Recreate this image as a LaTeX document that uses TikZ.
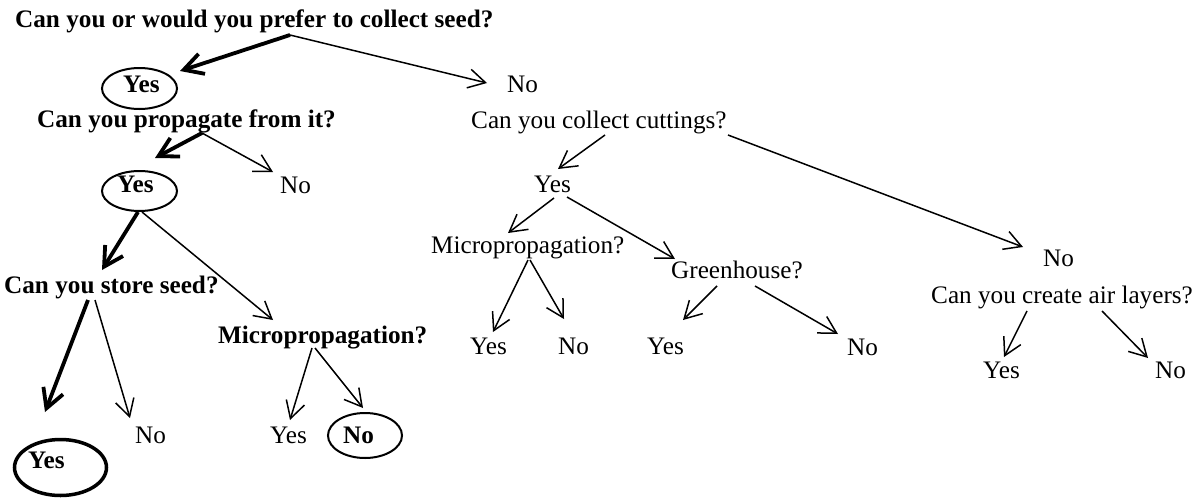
\documentclass[tikz,border=0pt]{standalone}
\usepackage{fontspec}
\setmainfont{Liberation Serif}
\usetikzlibrary{arrows.meta,shapes.geometric}

\begin{document}
\begin{tikzpicture}[x=1pt,y=-1pt,
  lbl/.style={inner sep=0pt,anchor=base west,font=\fontsize{25.2}{30}\selectfont},
  blbl/.style={lbl,font=\fontsize{25.2}{30}\selectfont\bfseries},
  oval/.style={draw,ellipse,inner sep=0pt,line width=2pt},
  thin/.style={line width=1.5pt,-{Straight Barb[length=17pt,width=19pt]}},
  thick/.style={line width=3.8pt,-{Straight Barb[length=19pt,width=21pt]}}]
\useasboundingbox (0,0) rectangle (1199,498);

% outlines around the chosen answers
\node[oval,minimum width=75pt,minimum height=41pt] (e1) at (139.5,88.5) {};
\node[oval,minimum width=75pt,minimum height=40pt] (e2) at (139.5,191) {};
\node[oval,line width=3.5pt,minimum width=92pt,minimum height=56pt] (e3) at (60.5,467.5) {};
\node[oval,minimum width=74pt,minimum height=45pt] (e4) at (365,435.5) {};

% seed branch
\node[blbl] (q1) at (15,27) {Can you or would you prefer to collect seed?};
\node[blbl] (y1) at (123,92) {Yes};
\node[blbl] (q2) at (37,127) {Can you propagate from it?};
\node[blbl] (y2) at (117,192) {Yes};
\node[lbl]  (n2) at (280,193) {No};
\node[blbl] (q3) at (4,293) {Can you store seed?};
\node[lbl]  (n3) at (135,443) {No};
\node[blbl] (y3) at (28,468) {Yes};
\node[blbl] (q4) at (218,343) {Micropropagation?};
\node[lbl]  (y4) at (270,443) {Yes};
\node[blbl] (n4) at (343,443) {No};

% cuttings branch
\node[lbl] (n1) at (507,92) {No};
\node[lbl] (q5) at (471,128) {Can you collect cuttings?};
\node[lbl] (y5) at (534,192) {Yes};
\node[lbl] (q6) at (431,253) {Micropropagation?};
\node[lbl] (q7) at (671,278) {Greenhouse?};
\node[lbl] (y6) at (470,354) {Yes};
\node[lbl] (n6) at (558,354) {No};
\node[lbl] (y7) at (647,354) {Yes};
\node[lbl] (n7) at (847,355) {No};

% air layer branch
\node[lbl] (n5) at (1043,266) {No};
\node[lbl] (q8) at (931,303) {Can you create air layers?};
\node[lbl] (y8) at (983,378) {Yes};
\node[lbl] (n8) at (1155,378) {No};

% connector end points
\coordinate (q1o)  at (290,35);
\coordinate (y1i)  at (180,71);
\coordinate (n1i)  at (487,83);
\coordinate (q2o)  at (202,133);
\coordinate (y2i)  at (155,158);
\coordinate (n2i)  at (273,172);
\coordinate (y2oa) at (138,212);
\coordinate (y2ob) at (142,212);
\coordinate (q3i)  at (102,270);
\coordinate (q4i)  at (273,320);
\coordinate (q3oa) at (88,300);
\coordinate (q3ob) at (95,300);
\coordinate (y3i)  at (45,412);
\coordinate (n3i)  at (130,418);
\coordinate (q4oa) at (312,348);
\coordinate (q4ob) at (315,348);
\coordinate (y4i)  at (290,420);
\coordinate (n4i)  at (363,408);
\coordinate (q5oa) at (605,135);
\coordinate (q5ob) at (728,135);
\coordinate (y5i)  at (558,169);
\coordinate (n5i)  at (1023,247);
\coordinate (y5oa) at (554,198);
\coordinate (y5ob) at (567,197);
\coordinate (q6i)  at (508,233);
\coordinate (q7i)  at (675,259);
\coordinate (q6oa) at (528,260);
\coordinate (q6ob) at (530,260);
\coordinate (y6i)  at (493,332);
\coordinate (n6i)  at (564,319);
\coordinate (q7oa) at (717,286);
\coordinate (q7ob) at (755,286);
\coordinate (y7i)  at (683,320);
\coordinate (n7i)  at (838,334);
\coordinate (q8oa) at (1027,311);
\coordinate (q8ob) at (1102,311);
\coordinate (y8i)  at (1004,357);
\coordinate (n8i)  at (1148,358);

% chosen path
\draw[thick] (q1o) -- (y1i);
\draw[thick] (q2o) -- (y2i);
\draw[thick] (y2oa) -- (q3i);
\draw[thick] (q3oa) -- (y3i);

% other answers
\draw[thin] (q1o) -- (n1i);
\draw[thin] (q2o) -- (n2i);
\draw[thin] (y2ob) -- (q4i);
\draw[thin] (q3ob) -- (n3i);
\draw[thin] (q4oa) -- (y4i);
\draw[thin] (q4ob) -- (n4i);
\draw[thin] (q5oa) -- (y5i);
\draw[thin] (q5ob) -- (n5i);
\draw[thin] (y5oa) -- (q6i);
\draw[thin] (y5ob) -- (q7i);
\draw[thin] (q6oa) -- (y6i);
\draw[thin] (q6ob) -- (n6i);
\draw[thin] (q7oa) -- (y7i);
\draw[thin] (q7ob) -- (n7i);
\draw[thin] (q8oa) -- (y8i);
\draw[thin] (q8ob) -- (n8i);
\end{tikzpicture}
\end{document}
